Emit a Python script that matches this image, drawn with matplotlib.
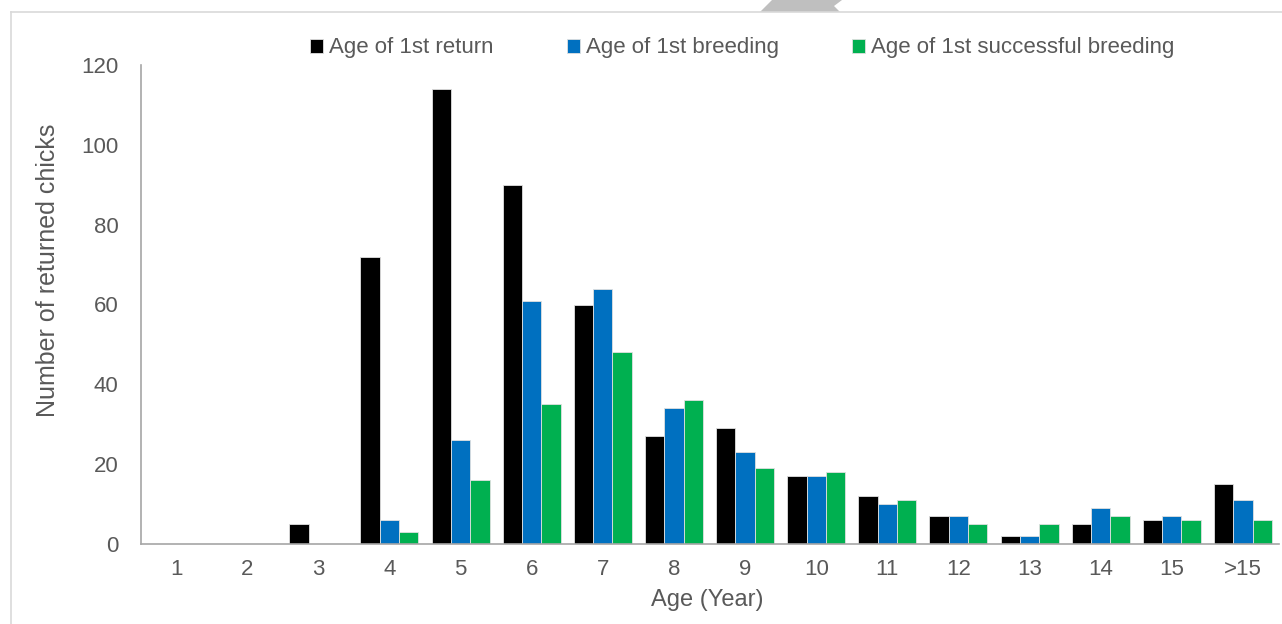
import numpy as np
import matplotlib
matplotlib.use("Agg")
import matplotlib.pyplot as plt
from matplotlib.patches import Polygon
from matplotlib.lines import Line2D

ages = ["1", "2", "3", "4", "5", "6", "7", "8", "9", "10", "11", "12", "13", "14", "15", ">15"]
first_return = [0, 0, 5, 72, 114, 90, 60, 27, 29, 17, 12, 7, 2, 5, 6, 15]
first_breeding = [0, 0, 0, 6, 26, 61, 64, 34, 23, 17, 10, 7, 2, 9, 7, 11]
first_success = [0, 0, 0, 3, 16, 35, 48, 36, 19, 18, 11, 5, 5, 7, 6, 6]

series = [
    ("Age of 1st return", first_return, "#000000"),
    ("Age of 1st breeding", first_breeding, "#0070C0"),
    ("Age of 1st successful breeding", first_success, "#00B050"),
]

plt.rcParams['font.family'] = ['Liberation Sans', 'DejaVu Sans']
txt = "#595959"
fs = 16

W, H = 1282, 624
fig = plt.figure(figsize=(W / 100, H / 100), dpi=100)
ax = fig.add_axes([140.5 / W, 1 - 544 / H, 1138 / W, 479 / H])

x = np.arange(len(ages))
bw = 0.272
for i, (name, vals, col) in enumerate(series):
    ax.bar(x + (i - 1) * bw, vals, bw, color=col, label=name,
           edgecolor="#E0E0E0", linewidth=0.6)

ax.set_xlim(-0.5, len(ages) - 0.5)
ax.set_ylim(0, 120)
ax.set_yticks(range(0, 121, 20))
ax.set_xticks(x)
ax.set_xticklabels(ages)
ax.tick_params(axis="both", length=0, labelsize=fs, colors=txt)
ax.tick_params(axis="x", pad=11)
ax.tick_params(axis="y", pad=16)
for s in ["top", "right"]:
    ax.spines[s].set_visible(False)
for s in ["left", "bottom"]:
    ax.spines[s].set_color("#A6A6A6")
    ax.spines[s].set_linewidth(1.2)

ax.set_xlabel("Age (Year)", fontsize=17, color=txt, va="center")
ax.xaxis.set_label_coords(0.498, -0.117)
ax.set_ylabel("Number of returned chicks", fontsize=18, color=txt, va="center")
ax.yaxis.set_label_coords(-0.0813, 0.572)

ax.legend(loc="center", bbox_to_anchor=(0.5286, 1.0355), ncol=3, frameon=False,
          fontsize=fs, labelcolor=txt, handlelength=0.6, handleheight=0.6,
          handletextpad=0.25, columnspacing=3.3, borderpad=0, borderaxespad=0)

# outer frame and the grey tab at the top
fig.add_artist(Line2D([11 / W, 11 / W], [0, 1 - 12 / H], transform=fig.transFigure,
                      color="#D9D9D9", lw=1.2))
fig.add_artist(Line2D([11 / W, 1], [1 - 12 / H, 1 - 12 / H], transform=fig.transFigure,
                      color="#D9D9D9", lw=1.2))
tab = [(760, 12), (772, 0), (842, 0), (834, 6), (840, 12)]
fig.add_artist(Polygon([(px / W, 1 - py / H) for px, py in tab], closed=True,
                       transform=fig.transFigure, facecolor="#BFBFBF", edgecolor="none"))

fig.savefig("out.png", dpi=100)
